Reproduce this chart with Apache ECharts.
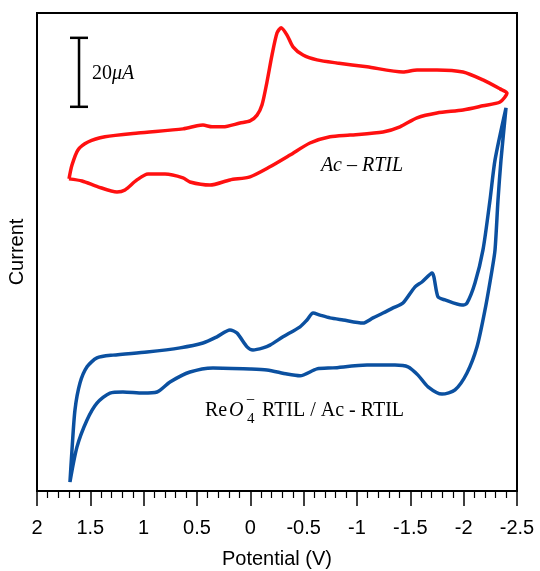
<!DOCTYPE html>
<html>
<head>
<meta charset="utf-8">
<script src="https://cdn.jsdelivr.net/npm/echarts@6/dist/echarts.min.js"></script>
<style>
  html, body { margin: 0; padding: 0; background: #fff; }
  #chart { width: 540px; height: 571px; }
</style>
</head>
<body>
<div id="chart"></div>
<script>
// Ac-RTIL (red), potential in V, current in uA (arbitrary offset)
const redPotential = [1.70, 1.672, 1.616, 1.522, 1.363, 1.053, 0.631, 0.50, 0.444, 0.359, 0.256, 0.097, 0.003,
  -0.063, -0.109, -0.156, -0.203, -0.25, -0.288, -0.344, -0.40, -0.494, -0.625, -0.813, -1.094, -1.431, -1.563,
  -1.75, -1.994, -2.181, -2.341, -2.406,
  -2.341, -2.181, -1.994, -1.75, -1.563, -1.403, -1.244, -0.934, -0.747, -0.559, -0.372, -0.184, 0.003, 0.191,
  0.378, 0.566, 0.631, 0.80, 0.959, 1.063, 1.175, 1.25, 1.428, 1.578, 1.70]
const redCurrent = [90.5, 94.5, 98.9, 101.2, 102.7, 103.8, 105.0, 105.9, 106.1, 105.6, 105.6, 106.7, 107.3,
  109.0, 111.9, 118.6, 126.4, 132.8, 134.3, 132.2, 128.8, 126.4, 125.0, 124.1, 123.0, 121.5, 122.1,
  122.1, 121.5, 119.2, 116.6, 115.4,
  112.8, 111.7, 110.5, 109.6, 108.2, 105.6, 104.1, 103.2, 102.7, 100.9, 97.4, 94.0, 91.1, 90.2,
  88.7, 89.6, 90.8, 91.9, 91.9, 90.2, 87.3, 86.7, 88.2, 89.9, 90.5]

// ReO4- RTIL / Ac-RTIL (blue)
const bluePotential = [1.691, 1.672, 1.644, 1.597, 1.531, 1.438, 1.288, 0.969, 0.659, 0.444, 0.313, 0.191, 0.125,
  0.031, -0.025, -0.119, -0.184, -0.306, -0.466, -0.531, -0.588, -0.653, -0.747, -0.869, -1.056, -1.15, -1.244,
  -1.338, -1.431, -1.544, -1.609, -1.703, -1.759, -1.825, -1.984, -2.031, -2.106, -2.181, -2.247,
  -2.294, -2.397,
  -2.35, -2.322, -2.294, -2.266, -2.20, -2.125, -2.031, -1.919, -1.797, -1.666, -1.572, -1.478, -1.356, -1.094, -0.775,
  -0.625, -0.466, -0.344, -0.156, 0.003, 0.35, 0.566, 0.753, 0.875, 1.006, 1.194, 1.316, 1.438, 1.531, 1.625, 1.691]
const blueCurrent = [2.6, 11.9, 23.5, 31.3, 36.0, 38.6, 39.4, 40.3, 41.5, 42.9, 44.7, 46.7, 45.8,
  41.8, 40.9, 41.5, 42.3, 44.7, 47.6, 49.6, 51.6, 51.0, 50.2, 49.6, 48.7, 50.2, 51.6,
  53.1, 54.5, 59.2, 60.6, 63.2, 56.3, 55.4, 53.9, 54.5, 60.3, 69.9, 84.4,
  96.0, 111.1,
  96.0, 84.4, 69.9, 64.1, 52.5, 41.8, 34.2, 29.3, 28.1, 30.2, 33.6, 36.0, 36.5, 36.5, 35.7,
  35.4, 33.4, 33.9, 35.1, 35.4, 35.7, 34.5, 31.6, 28.7, 28.4, 28.7, 28.4, 25.5, 20.6, 12.8, 2.6]

// 20 uA scale bar
const scaleBarPotential = [1.606, 1.606]
const scaleBarCurrent = [131.4, 111.4]

const xMin = -2.5
const xMax = 2
const xStep = 0.5

function pairs(xs, ys) {
  return xs.map((x, i) => [x, ys[i]])
}

const chart = echarts.init(document.getElementById('chart'))

const serif = '"Liberation Serif", "DejaVu Serif", serif'
const sans = '"Liberation Sans", Arial, sans-serif'

const option = {
  animation: false,
  grid: {
    left: 37,
    right: 23,
    top: 13,
    bottom: 80,
    outerBoundsMode: 'none',
    containLabel: false,
    show: true,
    borderColor: '#000',
    borderWidth: 2
  },
  xAxis: {
    type: 'value',
    inverse: true,
    min: xMin,
    max: xMax,
    interval: xStep,
    name: 'Potential (V)',
    nameLocation: 'middle',
    nameGap: 58,
    nameTextStyle: { fontFamily: sans, fontSize: 20, color: '#000' },
    axisLine: { show: true, onZero: false, lineStyle: { color: '#000', width: 2 } },
    axisTick: { show: true, inside: false, length: 15, lineStyle: { color: '#000', width: 1.5 } },
    minorTick: { show: true, splitNumber: 5, length: 7, lineStyle: { color: '#000', width: 1.2 } },
    axisLabel: { margin: 27, fontFamily: sans, fontSize: 20, color: '#000' },
    splitLine: { show: false },
    minorSplitLine: { show: false }
  },
  yAxis: {
    type: 'value',
    min: 0,
    max: 138.6,
    name: 'Current',
    nameLocation: 'middle',
    nameGap: 10,
    nameTextStyle: { fontFamily: sans, fontSize: 20, color: '#000' },
    axisLine: { show: false },
    axisTick: { show: false },
    axisLabel: { show: false },
    splitLine: { show: false }
  },
  series: [
    {
      name: 'Ac - RTIL',
      type: 'line',
      data: pairs(redPotential, redCurrent),
      smooth: 0.25,
      showSymbol: false,
      lineStyle: { color: '#ff1010', width: 3.5 }
    },
    {
      name: 'ReO4- RTIL / Ac - RTIL',
      type: 'line',
      data: pairs(bluePotential, blueCurrent),
      smooth: 0.25,
      showSymbol: false,
      lineStyle: { color: '#0b50a0', width: 3.5 }
    },
    {
      name: 'scale',
      type: 'line',
      data: pairs(scaleBarPotential, scaleBarCurrent),
      symbol: 'rect',
      symbolSize: [18, 2.5],
      showSymbol: true,
      itemStyle: { color: '#000' },
      lineStyle: { color: '#000', width: 2.5 }
    }
  ],
  graphic: [
    {
      type: 'text',
      x: 92,
      y: 74,
      style: {
        text: '{n|20}{i|μA}',
        verticalAlign: 'middle',
        rich: {
          n: { fontFamily: serif, fontSize: 20, fill: '#000' },
          i: { fontFamily: serif, fontSize: 20, fontStyle: 'italic', fill: '#000' }
        }
      }
    },
    {
      type: 'text',
      x: 362,
      y: 166,
      style: {
        text: 'Ac – RTIL',
        align: 'center',
        verticalAlign: 'middle',
        fontFamily: serif,
        fontSize: 20,
        fontStyle: 'italic',
        fill: '#000'
      }
    },
    { type: 'text', x: 205, y: 411, style: { text: 'Re', verticalAlign: 'middle', fontFamily: serif, fontSize: 20, fill: '#000' } },
    { type: 'text', x: 229, y: 411, style: { text: 'O', verticalAlign: 'middle', fontFamily: serif, fontSize: 20, fontStyle: 'italic', fill: '#000' } },
    { type: 'text', x: 247, y: 419, style: { text: '4', verticalAlign: 'middle', fontFamily: serif, fontSize: 15, fill: '#000' } },
    { type: 'text', x: 246, y: 401, style: { text: '−', verticalAlign: 'middle', fontFamily: serif, fontSize: 16, fill: '#000' } },
    { type: 'text', x: 262, y: 411, style: { text: 'RTIL / Ac - RTIL', verticalAlign: 'middle', fontFamily: serif, fontSize: 20, fill: '#000' } }
  ]
}

chart.setOption(option)
</script>
</body>
</html>
